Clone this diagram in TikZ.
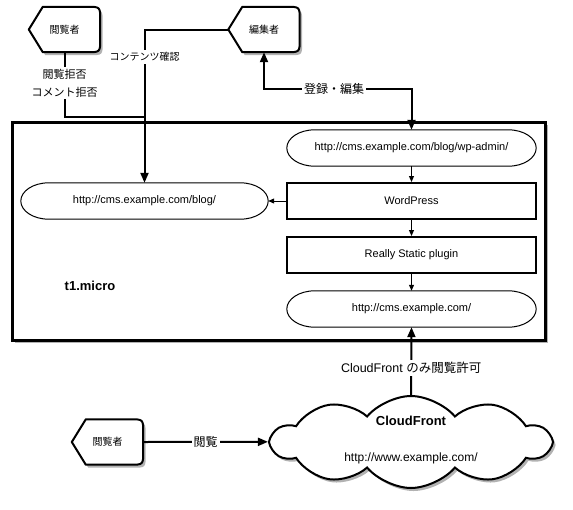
\documentclass[tikz,border=0pt]{standalone}
\usepackage{fontspec}
\setmainfont{Liberation Sans}
\newfontfamily\jp{Noto Sans CJK JP}
\usetikzlibrary{shapes.geometric,shapes.symbols,shadows,arrows.meta,calc,backgrounds}
\tikzset{
  x=1pt, y=-1pt,
  bigtip/.tip={Triangle[length=10pt,width=8pt]},
  smalltip/.tip={Triangle[length=6pt,width=5pt]},
  conn/.style={line width=2pt},
  thinarr/.style={line width=1pt,-smalltip},
  shadowed/.style={drop shadow={shadow xshift=2.5pt,shadow yshift=-3pt,opacity=0.3,fill=black}},
  urlell/.style={rectangle,minimum width=249pt,minimum height=36pt,inner sep=0pt,font=\fontsize{11}{13}\selectfont},
  procbox/.style={rectangle,draw,line width=2pt,fill=white,minimum width=249pt,minimum height=36pt,inner sep=0pt,font=\fontsize{11}{13}\selectfont},
  lbl/.style={fill=white,inner sep=2pt},
  actorbox/.style={minimum width=71pt,minimum height=45pt,inner sep=0pt,font=\jp\fontsize{10}{12}\selectfont},
  actorline/.style={draw,fill=white,line width=2pt,line join=round,shadowed},
  stadline/.style={draw,line width=1pt},
}
\newcommand\actorshape[1]{%
  \path[actorline] (#1.west) -- ($(#1.north west)+(14,0)$) -- ($(#1.north east)+(-13,0)$)
    .. controls (#1.north east) .. ($(#1.north east)+(0,13)$)
    -- ($(#1.south east)+(0,-13)$)
    .. controls (#1.south east) .. ($(#1.south east)+(-13,0)$)
    -- ($(#1.south west)+(14,0)$) -- cycle;}
\newcommand\stadium[1]{%
  \path[stadline] ($(#1.north west)+(28,0)$) -- ($(#1.north east)+(-28,0)$)
    .. controls ($(#1.north east)+(-12.5,0)$) and ($(#1.east)+(0,-10)$) .. (#1.east)
    .. controls ($(#1.east)+(0,10)$) and ($(#1.south east)+(-12.5,0)$) .. ($(#1.south east)+(-28,0)$)
    -- ($(#1.south west)+(28,0)$)
    .. controls ($(#1.south west)+(12.5,0)$) and ($(#1.west)+(0,10)$) .. (#1.west)
    .. controls ($(#1.west)+(0,-10)$) and ($(#1.north west)+(12.5,0)$) .. ($(#1.north west)+(28,0)$) -- cycle;}
\begin{document}
\begin{tikzpicture}
\useasboundingbox (0,0) rectangle (573,509);

% actors
\node[actorbox] (v1) at (64.5,29.5) {閲覧者};
\node[actorbox] (ed) at (264,29.5) {編集者};
\node[actorbox] (v2) at (107.5,442) {閲覧者};
\begin{scope}[on background layer]
  \actorshape{v1}
  \actorshape{ed}
  \actorshape{v2}
\end{scope}

% server box
\node[draw,line width=3pt,fill=white,shadowed,minimum width=533pt,minimum height=218pt,inner sep=0pt] (micro) at (278.5,231) {};
\node[font=\bfseries\fontsize{13}{15}\selectfont] (t1) at (90,286) {t1.micro};

\node[urlell] (admin) at (411.5,148) {http://cms.example.com/blog/wp-admin/};
\node[procbox] (wp) at (411.5,201) {WordPress};
\node[procbox] (rs) at (411.5,255) {Really Static plugin};
\node[urlell] (cms) at (411.5,309) {http://cms.example.com/};
\node[urlell,minimum width=247pt] (blog) at (144.5,201) {http://cms.example.com/blog/};
\stadium{admin}
\stadium{cms}
\stadium{blog}

\draw[thinarr] (admin.south) -- (wp.north);
\draw[thinarr] (wp.south) -- (rs.north);
\draw[thinarr] (rs.south) -- (cms.north);
\draw[thinarr] (wp.west) -- (blog.east);

% cloud
\node[cloud,cloud puffs=10,cloud puff arc=100,aspect=3,draw,line width=2pt,fill=white,shadowed,minimum width=278pt,minimum height=92pt,inner sep=0pt] (cf) at (411,442) {};
\node[font=\bfseries\fontsize{13}{15}\selectfont] (cft) at (411,421) {CloudFront};
\node[font=\fontsize{12}{14}\selectfont] (cfu) at (411,458) {http://www.example.com/};

% connectors
\draw[conn,-bigtip] (cf.north) -- node[lbl,pos=0.4,font=\fontsize{12.5}{14}\selectfont]{CloudFront {\jp のみ閲覧許可}} (cms.south);
\draw[conn,-bigtip] (v2.east) -- node[lbl,font=\jp\fontsize{12}{14}\selectfont]{閲覧} (cf.west);

\draw[conn,-bigtip] (ed.west) -| node[lbl,pos=0.59,font=\jp\fontsize{10}{12}\selectfont]{コンテンツ確認} (blog.north);

\coordinate (j) at (144.5,117);
\draw[conn] (v1.south) |- node[lbl,pos=0.24,align=center,font=\jp\fontsize{11}{18}\selectfont]{閲覧拒否\\コメント拒否} (j);

\coordinate (k) at (334,89);
\draw[conn,bigtip-bigtip] (ed.south) |- (k) node[lbl,font=\jp\fontsize{12}{14}\selectfont]{登録・編集} -| (admin.north);
\end{tikzpicture}
\end{document}
